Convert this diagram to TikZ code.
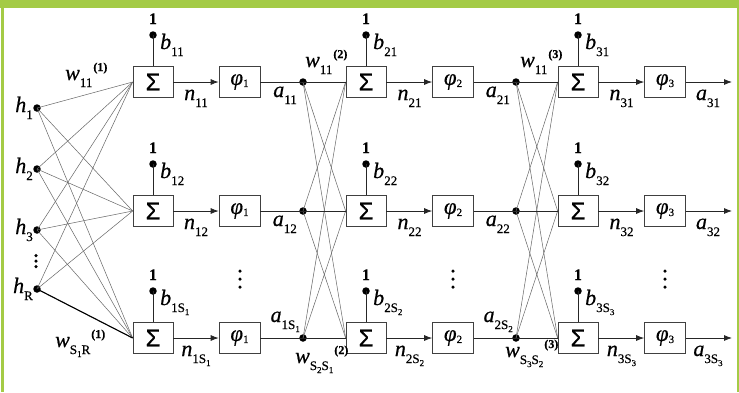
\documentclass[tikz,border=0pt]{standalone}
\usepackage{fontspec}
\setmainfont{Liberation Serif}[FakeBold=0.5]
\newfontfamily\sansf{Liberation Sans}[FakeBold=0.4]
\usetikzlibrary{arrows.meta}
\definecolor{frameg}{RGB}{164,203,70}
\newcommand\sbs[1]{\raisebox{-7pt}{\fontsize{13}{13}\selectfont #1}}
\newcommand\sps[1]{\raisebox{9pt}{\fontsize{12}{12}\selectfont\bfseries #1}}
\newcommand\ssub[1]{\raisebox{-3pt}{\fontsize{9}{9}\selectfont #1}}
\newcommand\psub[1]{\raisebox{-2pt}{\fontsize{11}{11}\selectfont #1}}
\newcommand\vlab[2]{\textit{#1}\sbs{#2}}
\newcommand\wlab[2]{\textit{w}\sbs{#1}\kern1pt\sps{(#2)}}
\begin{document}
\begin{tikzpicture}[x=1pt,y=-1pt,
  lab/.style={inner sep=0pt, font=\fontsize{22}{22}\selectfont},
  onelab/.style={inner sep=0pt, font=\fontsize{16}{16}\selectfont\bfseries},
  sumbox/.style={draw=black!75, line width=0.7pt, minimum width=40pt, minimum height=31pt, inner sep=0pt, font=\sansf\fontsize{24}{24}\selectfont},
  actbox/.style={draw=black!75, line width=0.7pt, minimum width=41pt, minimum height=31pt, inner sep=0pt, font=\fontsize{23}{23}\selectfont},
  dotn/.style={circle, fill=black, inner sep=0pt, minimum size=7.5pt},
  wire/.style={black!60, line width=0.5pt},
  hwire/.style={black!85, line width=0.8pt},
  arr/.style={black!85, line width=0.8pt, -{Latex[length=8pt,width=6pt]}},
  edot/.style={circle, fill=black, inner sep=0pt, minimum size=3.5pt}
]
\useasboundingbox (0,0) rectangle (739,392);
\fill[white] (0,0) rectangle (739,392);
\fill[frameg] (0,0) rectangle (739,8);
\fill[frameg] (1,0) rectangle (4,392);
\fill[frameg] (736.5,0) rectangle (739,392);

% inputs
\node[dotn] (h1) at (37,108) {};
\node[dotn] (h2) at (37,169) {};
\node[dotn] (h3) at (37,230) {};
\node[dotn] (h4) at (37,289) {};
\node[lab, anchor=base east] (lh1) at (33,112) {\vlab{h}{1}};
\node[lab, anchor=base east] (lh2) at (33,173) {\vlab{h}{2}};
\node[lab, anchor=base east] (lh3) at (33,234) {\vlab{h}{3}};
\node[lab, anchor=base east] (lh4) at (33,293) {\vlab{h}{R}};
\node[edot] (e01) at (36,255.5) {};
\node[edot] (e02) at (36,261) {};
\node[edot] (e03) at (36,266.5) {};

\foreach \r/\y/\ia/\ib/\ic in {1/82/11/21/31, 2/211/12/22/32, 3/338/{1S\ssub{1}}/{2S\ssub{2}}/{3S\ssub{3}}} {
  \node[sumbox] (s1\r) at (153,\y) {Σ};
  \node[actbox] (p1\r) at (239.5,\y) {\textit{φ}\psub{1}};
  \node[sumbox] (s2\r) at (366,\y) {Σ};
  \node[actbox] (p2\r) at (453,\y) {\textit{φ}\psub{2}};
  \node[sumbox] (s3\r) at (578,\y) {Σ};
  \node[actbox] (p3\r) at (665,\y) {\textit{φ}\psub{3}};
  \node[dotn] (a1\r) at (303,\y) {};
  \node[dotn] (a2\r) at (516,\y) {};
  \coordinate (o\r) at (732,\y);
  % biases
  \node[dotn] (b1\r) at (153,\y-47) {};
  \node[dotn] (b2\r) at (366,\y-47) {};
  \node[dotn] (b3\r) at (578,\y-47) {};
  \node[onelab, anchor=base] (u1\r) at (153,\y-58) {1};
  \node[onelab, anchor=base] (u2\r) at (366,\y-58) {1};
  \node[onelab, anchor=base] (u3\r) at (578,\y-58) {1};
  \node[lab, anchor=base west] (lb1\r) at (160,\y-33) {\vlab{b}{\ia}};
  \node[lab, anchor=base west] (lb2\r) at (373,\y-33) {\vlab{b}{\ib}};
  \node[lab, anchor=base west] (lb3\r) at (585,\y-33) {\vlab{b}{\ic}};
  \draw[hwire] (b1\r.center) -- (s1\r.north);
  \draw[hwire] (b2\r.center) -- (s2\r.north);
  \draw[hwire] (b3\r.center) -- (s3\r.north);
  % forward path
  \draw[arr] (s1\r.east) -- (p1\r.west);
  \draw[arr] (s2\r.east) -- (p2\r.west);
  \draw[arr] (s3\r.east) -- (p3\r.west);
  \draw[hwire] (p1\r.east) -- (a1\r.center);
  \draw[hwire] (p2\r.east) -- (a2\r.center);
  \draw[arr] (p3\r.east) -- (o\r);
  \node[lab, anchor=base] (ln1\r) at (196,\y+18) {\vlab{n}{\ia}};
  \node[lab, anchor=base] (ln2\r) at (409.5,\y+18) {\vlab{n}{\ib}};
  \node[lab, anchor=base] (ln3\r) at (621.5,\y+18) {\vlab{n}{\ic}};
  \node[lab, anchor=base] (la3\r) at (708,\y+18) {\vlab{a}{\ic}};
}

% activation labels of layers 1 and 2
\node[lab, anchor=base east] (la11) at (297,97) {\vlab{a}{11}};
\node[lab, anchor=base east] (la12) at (297,226) {\vlab{a}{12}};
\node[lab, anchor=base east] (la13) at (300,322) {\vlab{a}{1S\ssub{1}}};
\node[lab, anchor=base east] (la21) at (510,97) {\vlab{a}{21}};
\node[lab, anchor=base east] (la22) at (510,226) {\vlab{a}{22}};
\node[lab, anchor=base east] (la23) at (513,322) {\vlab{a}{2S\ssub{2}}};

% vertical ellipses
\foreach \x/\n in {240/1,453/2,665/3} {
  \node[edot] (e\n1) at (\x,271) {};
  \node[edot] (e\n2) at (\x,279) {};
  \node[edot] (e\n3) at (\x,287) {};
}

% weights layer 1
\foreach \i in {1,2,3,4} \foreach \r in {1,2,3} \draw[wire] (h\i.center) -- (s1\r.west);
\draw[black, line width=1.1pt] (h4.center) -- (s13.west);
% weights layer 2 and 3
\foreach \i in {1,2,3} \foreach \r in {1,2,3} {
  \draw[wire] (a1\i.center) -- (s2\r.west);
  \draw[wire] (a2\i.center) -- (s3\r.west);
}
\foreach \r in {1,2,3} {
  \draw[hwire] (a1\r.center) -- (s2\r.west);
  \draw[hwire] (a2\r.center) -- (s3\r.west);
}

% weight labels
\node[lab, anchor=base west] (w1a) at (65,80) {\wlab{11}{1}};
\node[lab, anchor=base west] (w1b) at (55,347) {\wlab{S\ssub{1}R}{1}};
\node[lab, anchor=base west] (w2a) at (305,67) {\wlab{11}{2}};
\node[lab, anchor=base west] (w2b) at (295,363) {\wlab{S\ssub{2}S\ssub{1}}{2}};
\node[lab, anchor=base west] (w3a) at (520,67) {\wlab{11}{3}};
\node[lab, anchor=base west] (w3b) at (505,357) {\wlab{S\ssub{3}S\ssub{2}}{3}};
\end{tikzpicture}
\end{document}
